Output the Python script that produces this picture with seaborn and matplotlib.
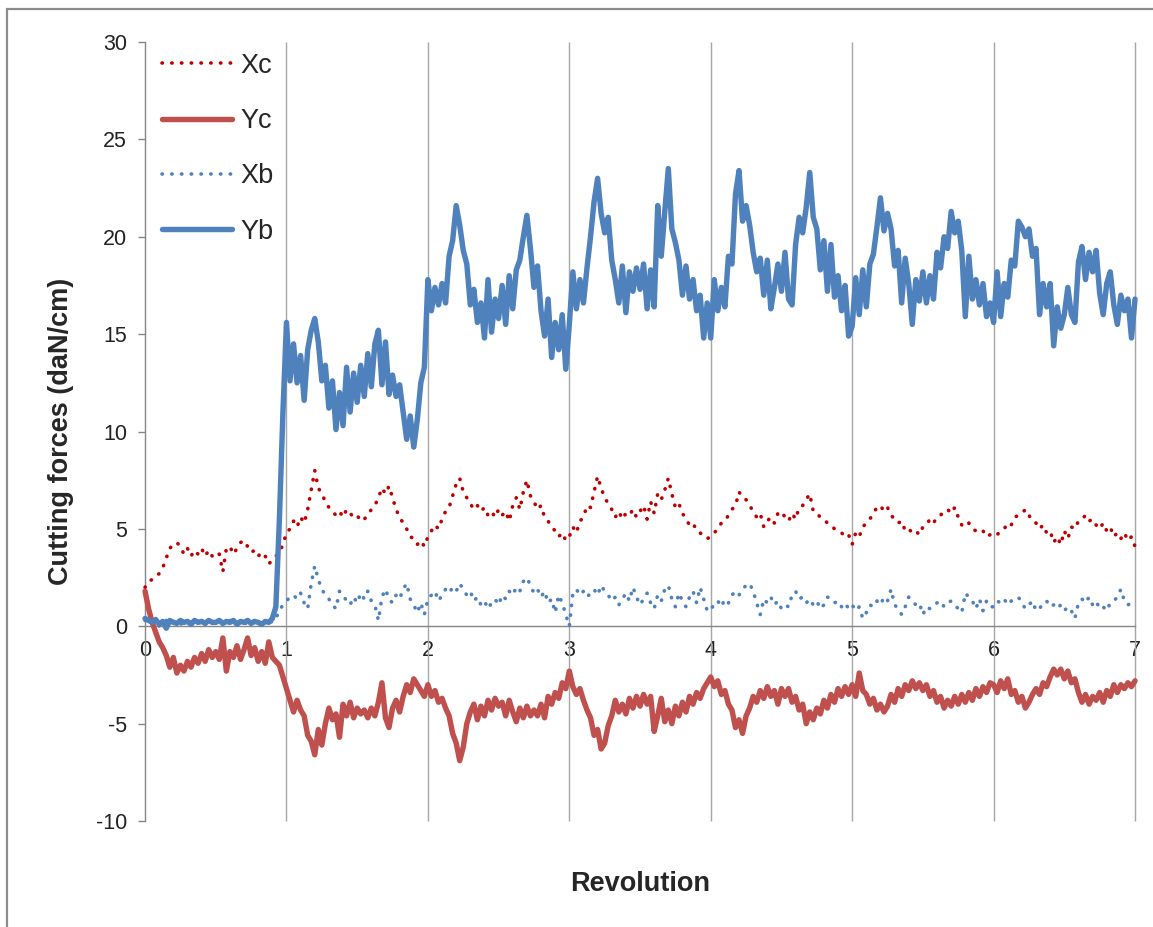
#!/usr/bin/env python3
"""
Cutting forces (Xc, Yc, Xb, Yb) over 7 revolutions, Excel-like line chart.
"""
import numpy as np
import seaborn as sns
import matplotlib.pyplot as plt
from matplotlib.patches import Rectangle

# values, one every 0.025 revolution (0 .. 7)
xc = [2.0, 2.3, 2.4, 2.6, 2.7, 3.0, 3.5, 4.0, 4.2, 4.3, 4.1, 3.7, 4.0, 3.6, 3.9, 3.7, 4.0, 3.6, 3.9, 3.6,
      3.8, 3.7, 2.8, 4.0, 4.1, 3.7, 4.0, 4.3, 4.4, 4.1, 3.8, 3.9, 3.6, 3.8, 3.6, 3.2, 3.4, 3.6, 3.8, 4.2,
      4.8, 5.0, 5.4, 5.1, 5.6, 5.3, 6.0, 7.0, 8.0, 7.1, 6.8, 6.4, 6.1, 5.9, 5.7, 5.9, 5.6, 6.0, 5.8, 5.6,
      5.7, 5.4, 5.5, 5.7, 6.0, 6.2, 6.6, 7.1, 6.8, 7.2, 6.6, 6.0, 5.6, 5.3, 5.0, 4.6, 4.5, 4.2, 4.4, 4.1,
      4.6, 4.9, 5.2, 5.0, 5.5, 5.9, 6.1, 6.7, 7.3, 7.6, 6.9, 6.6, 6.3, 6.0, 6.2, 5.9, 6.1, 5.7, 5.9, 5.6,
      6.0, 5.7, 5.9, 5.4, 6.2, 6.6, 6.0, 6.9, 7.5, 6.7, 6.4, 6.0, 6.2, 5.6, 5.4, 5.1, 4.9, 4.6, 4.8, 4.4,
      4.6, 5.1, 4.8, 5.4, 5.6, 6.2, 6.1, 6.9, 7.7, 7.1, 6.6, 6.3, 6.0, 5.6, 5.9, 5.5, 5.8, 5.7, 6.0, 5.6,
      5.9, 6.2, 5.5, 6.4, 5.8, 6.8, 6.5, 7.0, 7.6, 6.8, 6.1, 6.3, 5.8, 5.5, 5.2, 5.3, 4.9, 4.8, 4.6, 4.5,
      4.6, 4.8, 5.0, 5.3, 5.4, 5.7, 6.0, 6.2, 6.9, 6.6, 6.5, 6.2, 5.9, 5.6, 5.8, 5.1, 5.4, 5.6, 5.3, 5.8,
      5.9, 5.6, 5.4, 5.8, 5.5, 6.1, 6.2, 6.5, 6.8, 5.9, 5.8, 5.6, 5.5, 5.3, 5.2, 5.0, 4.9, 4.8, 4.6, 4.7,
      4.2, 4.8, 4.6, 5.1, 5.3, 5.5, 5.8, 6.1, 6.2, 5.9, 6.1, 5.7, 5.5, 5.3, 5.4, 4.9, 5.0, 4.8, 4.9, 4.7,
      5.1, 5.2, 5.5, 5.3, 5.6, 5.7, 5.9, 6.0, 5.8, 6.1, 5.6, 5.2, 5.1, 5.3, 5.0, 4.9, 4.8, 4.9, 4.6, 4.7,
      4.6, 4.7, 4.9, 5.0, 5.3, 5.2, 5.6, 5.7, 5.8, 6.0, 5.7, 5.4, 5.3, 5.0, 5.2, 4.8, 4.9, 4.3, 4.6, 4.2,
      4.9, 4.5, 5.1, 5.0, 5.4, 5.5, 5.7, 5.4, 5.5, 5.2, 5.0, 5.3, 4.9, 5.1, 4.6, 4.8, 4.5, 4.8, 4.4, 4.6,
      4.1]

yc = [1.8, 0.9, 0.2, -0.3, -0.8, -1.1, -1.5, -2.1, -1.6, -2.4, -2.0, -2.3, -1.8, -2.1, -1.6, -1.9, -1.4, -1.8, -1.2, -1.6,
      -1.3, -1.7, -0.6, -2.3, -1.3, -1.6, -1.0, -1.7, -1.2, -0.6, -1.5, -1.1, -1.8, -1.3, -1.9, -0.8, -1.6, -1.8, -2.0, -2.6,
      -3.2, -3.8, -4.4, -3.8, -4.3, -4.6, -5.6, -5.9, -6.6, -5.3, -6.1, -5.0, -4.2, -4.8, -4.5, -5.7, -4.0, -4.6, -3.9, -4.7,
      -4.2, -4.5, -4.3, -4.7, -4.2, -4.6, -3.9, -2.9, -4.7, -5.2, -4.2, -3.8, -4.4, -3.6, -3.0, -3.4, -2.7, -3.0, -3.3, -3.6,
      -3.0, -3.6, -3.3, -3.9, -3.7, -4.2, -4.6, -5.5, -6.0, -6.9, -6.2, -5.0, -4.4, -4.0, -4.8, -4.1, -4.6, -3.8, -4.3, -3.7,
      -4.1, -3.9, -4.6, -3.8, -4.4, -4.9, -4.2, -4.7, -4.1, -4.6, -4.3, -4.6, -4.0, -4.7, -3.6, -4.0, -3.4, -3.7, -2.9, -3.2,
      -2.3, -3.1, -3.5, -3.2, -3.8, -4.3, -4.7, -5.6, -5.3, -6.3, -6.0, -5.1, -4.6, -3.8, -4.4, -4.0, -4.5, -3.7, -4.2, -3.6,
      -4.1, -3.5, -4.0, -3.6, -5.4, -4.6, -3.7, -4.9, -4.3, -5.0, -4.1, -4.6, -3.9, -4.4, -3.6, -4.0, -3.4, -3.7, -3.2, -2.9,
      -2.6, -3.1, -2.8, -3.5, -3.3, -4.0, -4.3, -5.2, -4.8, -5.5, -4.6, -4.2, -3.6, -3.9, -3.3, -3.7, -3.1, -3.6, -3.3, -4.0,
      -3.2, -3.6, -3.2, -3.9, -3.6, -4.3, -4.0, -5.0, -4.4, -4.8, -4.2, -4.5, -3.8, -4.2, -3.5, -3.9, -3.2, -3.6, -3.1, -3.5,
      -3.0, -3.6, -2.4, -3.3, -3.5, -4.0, -3.7, -4.3, -4.0, -4.4, -4.1, -3.5, -3.9, -3.2, -3.6, -3.0, -3.3, -2.8, -3.2, -2.9,
      -3.3, -3.0, -3.6, -3.3, -3.9, -3.6, -4.2, -3.8, -4.1, -3.6, -4.0, -3.5, -3.9, -3.4, -3.8, -3.2, -3.6, -3.1, -3.4, -2.9,
      -3.0, -3.4, -2.8, -3.2, -2.7, -3.5, -3.3, -3.9, -3.6, -4.2, -3.9, -3.5, -3.2, -3.5, -2.9, -3.1, -2.6, -2.2, -2.5, -2.2,
      -2.7, -2.3, -2.9, -2.7, -3.4, -3.9, -3.5, -4.0, -3.6, -3.8, -3.4, -3.9, -3.3, -3.6, -3.0, -3.4, -3.0, -3.2, -2.9, -3.1,
      -2.8]

xb = [0.3, 0.2, 0.1, 0.3, 0.0, 0.2, 0.3, 0.1, 0.2, 0.3, 0.1, 0.2, 0.3, 0.2, 0.1, 0.3, 0.2, 0.1, 0.3, 0.2,
      0.2, 0.3, 0.1, 0.2, 0.3, 0.1, 0.2, 0.3, 0.2, 0.1, 0.2, 0.3, 0.2, 0.1, 0.2, 0.3, 0.2, 0.4, 0.8, 1.1,
      1.3, 1.5, 1.6, 1.4, 1.7, 1.2, 0.9, 2.2, 3.1, 2.4, 1.9, 1.6, 1.4, 1.1, 0.9, 1.8, 1.6, 1.3, 1.1, 1.5,
      1.2, 1.7, 1.4, 1.8, 1.3, 1.1, 0.3, 1.5, 1.9, 1.4, 1.2, 1.6, 1.4, 1.9, 2.2, 1.4, 1.1, 0.7, 1.2, 0.6,
      1.4, 1.6, 1.8, 1.3, 1.6, 1.9, 1.7, 2.0, 1.8, 2.2, 1.9, 1.6, 1.8, 1.3, 1.5, 1.1, 1.3, 0.9, 1.2, 1.4,
      1.1, 1.6, 1.4, 1.8, 1.6, 2.0, 1.8, 2.3, 2.5, 2.1, 1.7, 1.9, 1.5, 1.8, 1.2, 1.4, 0.7, 1.6, 1.2, 0.6,
      0.0, 1.7, 1.9, 1.6, 1.8, 1.5, 1.7, 1.9, 1.6, 2.1, 1.8, 1.6, 1.3, 1.5, 1.1, 1.4, 1.7, 1.3, 2.0, 1.5,
      1.1, 1.4, 1.7, 1.2, 0.9, 1.6, 1.3, 1.9, 2.1, 1.4, 1.0, 1.7, 1.3, 1.0, 1.5, 1.8, 1.2, 2.0, 1.4, 0.8,
      0.8, 1.2, 1.3, 1.0, 1.4, 1.2, 1.6, 1.8, 1.6, 1.9, 2.1, 2.2, 1.8, 1.2, 0.6, 1.4, 1.2, 1.5, 1.1, 1.3,
      0.9, 1.1, 1.0, 1.6, 1.8, 1.4, 1.5, 1.2, 1.4, 1.1, 1.3, 0.9, 1.1, 1.5, 1.4, 1.2, 1.3, 1.0, 1.2, 0.9,
      1.1, 0.8, 1.0, 0.4, 0.7, 1.1, 1.0, 1.3, 1.1, 1.5, 1.3, 1.9, 1.1, 0.9, 0.6, 1.0, 1.5, 1.3, 1.1, 1.2,
      0.6, 1.0, 0.9, 1.1, 1.2, 1.3, 1.0, 1.2, 1.3, 1.1, 0.9, 0.7, 1.7, 1.5, 1.3, 0.9, 1.4, 0.8, 1.3, 1.0,
      1.0, 1.3, 1.2, 1.4, 1.1, 1.3, 1.4, 1.5, 1.2, 0.9, 1.1, 1.3, 0.8, 0.9, 1.2, 1.3, 1.0, 1.1, 0.9, 1.1,
      0.8, 1.0, 0.8, 0.4, 1.2, 1.4, 1.2, 1.5, 1.1, 1.3, 0.9, 1.0, 0.8, 1.2, 1.3, 1.5, 1.9, 1.3, 1.1, 1.2,
      1.0]

yb = [0.4, 0.3, 0.2, 0.35, 0.1, 0.25, -0.1, 0.3, 0.2, 0.15, 0.3, 0.2, 0.25, 0.1, 0.3, 0.2, 0.25, 0.15, 0.3, 0.2,
      0.2, 0.3, 0.15, 0.25, 0.2, 0.3, 0.1, 0.25, 0.2, 0.3, 0.15, 0.25, 0.2, 0.1, 0.25, 0.2, 0.4, 1.0, 5.5, 11.0,
      15.6, 12.6, 14.5, 12.5, 13.9, 11.6, 14.2, 15.2, 15.8, 14.6, 12.6, 13.4, 11.2, 12.6, 10.1, 12.0, 10.3, 13.3, 11.0, 13.0,
      11.5, 13.4, 11.8, 14.0, 12.3, 14.5, 15.2, 12.4, 14.6, 11.9, 12.9, 11.8, 12.4, 11.0, 9.6, 10.8, 9.2, 10.6, 12.5, 13.3,
      17.8, 16.2, 17.4, 16.5, 17.6, 16.6, 19.0, 19.8, 21.6, 20.6, 19.3, 18.6, 16.5, 17.3, 15.6, 16.6, 14.8, 17.8, 15.1, 16.8,
      15.8, 17.5, 15.5, 18.0, 16.3, 18.3, 18.8, 20.0, 21.1, 19.4, 17.4, 18.5, 16.2, 14.9, 16.8, 13.8, 15.6, 14.2, 16.0, 13.2,
      15.5, 18.2, 16.3, 17.8, 16.6, 18.4, 20.0, 21.8, 23.0, 21.2, 20.2, 21.0, 18.8, 17.8, 16.6, 18.5, 16.1, 18.2, 17.2, 18.4,
      17.3, 18.6, 16.3, 18.3, 16.4, 21.6, 19.0, 21.3, 23.5, 20.4, 19.7, 18.8, 17.0, 18.5, 16.8, 17.8, 16.2, 17.0, 14.8, 16.6,
      14.8, 17.8, 16.2, 17.4, 16.4, 19.0, 18.6, 22.2, 23.4, 20.8, 21.6, 20.6, 19.2, 18.2, 18.9, 17.0, 18.8, 16.3, 17.4, 18.6,
      17.2, 19.2, 16.8, 16.5, 19.6, 21.0, 20.2, 21.5, 23.3, 21.0, 20.4, 18.3, 19.8, 17.2, 19.6, 16.9, 18.0, 16.2, 17.5, 14.9,
      15.4, 17.9, 16.0, 18.3, 16.4, 18.6, 19.1, 20.5, 22.0, 20.3, 21.2, 20.4, 18.5, 19.3, 16.6, 18.9, 17.6, 15.5, 17.8, 16.7,
      18.2, 16.6, 18.0, 16.8, 19.2, 18.4, 20.0, 19.4, 21.3, 20.2, 20.8, 19.3, 15.9, 19.0, 16.8, 17.8, 16.5, 17.6, 15.9, 16.6,
      15.6, 18.2, 15.9, 17.6, 16.9, 18.8, 18.5, 20.8, 20.5, 20.0, 20.4, 19.0, 19.4, 16.0, 17.6, 16.4, 17.6, 14.4, 16.4, 15.3,
      16.0, 17.4, 16.0, 15.6, 18.7, 19.5, 17.8, 19.2, 18.2, 19.3, 17.1, 16.0, 17.6, 18.2, 16.5, 15.5, 17.0, 16.2, 16.8, 14.8,
      16.8]

series_names = ['Xc', 'Yc', 'Xb', 'Yb']
series_values = [xc, yc, xb, yb]
series_colors = ['#C00000', '#C0504D', '#4F81BD', '#4F81BD']
dotted = [True, False, True, False]

x_ticks = list(range(0, 8))
y_ticks = list(range(-10, 31, 5))

sns.set_theme(style='white')
plt.rcParams['font.family'] = ['Liberation Sans', 'DejaVu Sans']
plt.rcParams['axes.unicode_minus'] = False

fig = plt.figure(figsize=(11.53, 9.27), dpi=100)
ax = fig.add_axes([0.1258, 0.1143, 0.8586, 0.8404])

for name, vals, color, dot in zip(series_names, series_values, series_colors, dotted):
    rev = np.linspace(0, 7, len(vals))
    if dot:
        sns.lineplot(x=rev, y=vals, ax=ax, color=color, lw=2.6, label=name,
                     linestyle=(0, (0.1, 2.6)), dash_capstyle='round', sort=False,
                     zorder=3, clip_on=False)
    else:
        sns.lineplot(x=rev, y=vals, ax=ax, color=color, lw=3.9, label=name,
                     solid_capstyle='round', solid_joinstyle='round', sort=False,
                     zorder=3, clip_on=False)

ax.set_xlim(0, 7)
ax.set_ylim(-10, 30)
ax.set_xticks(x_ticks)
ax.set_yticks(y_ticks)

# vertical grid only, gray like Excel (drawn unclipped so the last one at 7 shows fully)
ax.grid(False)
ax.vlines(x_ticks[1:], -10, 30, colors='#a6a6a6', lw=1.0, zorder=1, clip_on=False)

for side in ['top', 'right']:
    ax.spines[side].set_visible(False)
ax.spines['left'].set_color('#868686')
ax.spines['left'].set_linewidth(1.0)
ax.spines['bottom'].set_position(('data', 0))
ax.spines['bottom'].set_color('#868686')
ax.spines['bottom'].set_linewidth(1.0)

ax.tick_params(axis='y', direction='out', length=5, width=1, color='#868686',
               pad=8, labelsize=15.5, labelcolor='#222222', left=True)
ax.tick_params(axis='x', length=0, pad=10, labelsize=15.5, labelcolor='#222222')

ax.set_xlabel('Revolution', fontsize=19.5, fontweight='bold')
ax.set_ylabel('Cutting forces (daN/cm)', fontsize=19.5, fontweight='bold')
ax.xaxis.label.set_va('center')
ax.yaxis.label.set_va('center')
ax.xaxis.set_label_coords(0.5, -0.081)
ax.yaxis.set_label_coords(-0.085, 0.5)

ax.legend(loc='upper left', bbox_to_anchor=(0.017, 0.986), frameon=False,
          fontsize=19.5, handlelength=2.6, handletextpad=0.3, labelspacing=1.08,
          borderaxespad=0, borderpad=0)

# outer chart border (left and top visible, the rest runs off the image)
fig.patches.append(Rectangle((0.0061, -0.1), 1.2, 1.0903, transform=fig.transFigure,
                             fill=False, edgecolor='#8c8c8c', lw=1.6, zorder=-1))

fig.savefig('out.png', dpi=100)
